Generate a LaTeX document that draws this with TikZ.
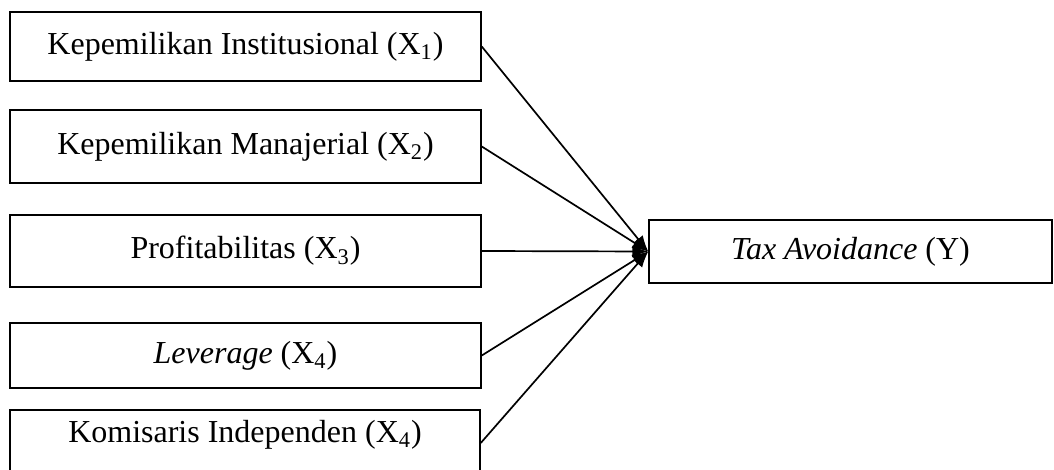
\documentclass[tikz,border=0pt]{standalone}
\usepackage{fontspec}
\setmainfont{Liberation Serif}
\usetikzlibrary{positioning,arrows.meta}

\begin{document}
\begin{tikzpicture}[x=0.5pt,y=-0.5pt,
    box/.style={draw, line width=0.75pt, minimum width=235.5pt, inner sep=0pt,
      font=\fontsize{16}{19}\selectfont},
    link/.style={-{Latex[length=8pt,width=6pt]}, line width=0.85pt}]
    \useasboundingbox (0,0) rectangle (1054,470);

    % variabel independen
    \node[box, minimum height=34.5pt] (inst) at (245.5,46.5) {Kepemilikan Institusional (X\textsubscript{1})};
    \node[box, minimum height=36.5pt] (mana) at (245.5,146.5) {Kepemilikan Manajerial (X\textsubscript{2})};
    \node[box, minimum height=36pt] (prof) at (245.5,251) {Profitabilitas (X\textsubscript{3})};
    \node[box, minimum height=32.5pt] (lev) at (245.5,355.5) {\textit{Leverage} (X\textsubscript{4})};
    \node[box, minimum height=33pt, minimum width=235pt] (kom) at (245,443) {\raisebox{12pt}{Komisaris Independen (X\textsubscript{4})}};

    % variabel dependen
    \node[box, minimum height=31.5pt, minimum width=201.5pt] (tax) at (850.5,251.5) {\textit{Tax Avoidance} (Y)};

    \foreach \n in {inst,mana,prof,lev,kom}
        \draw[link] (\n.east) -- (tax.west);
\end{tikzpicture}
\end{document}
